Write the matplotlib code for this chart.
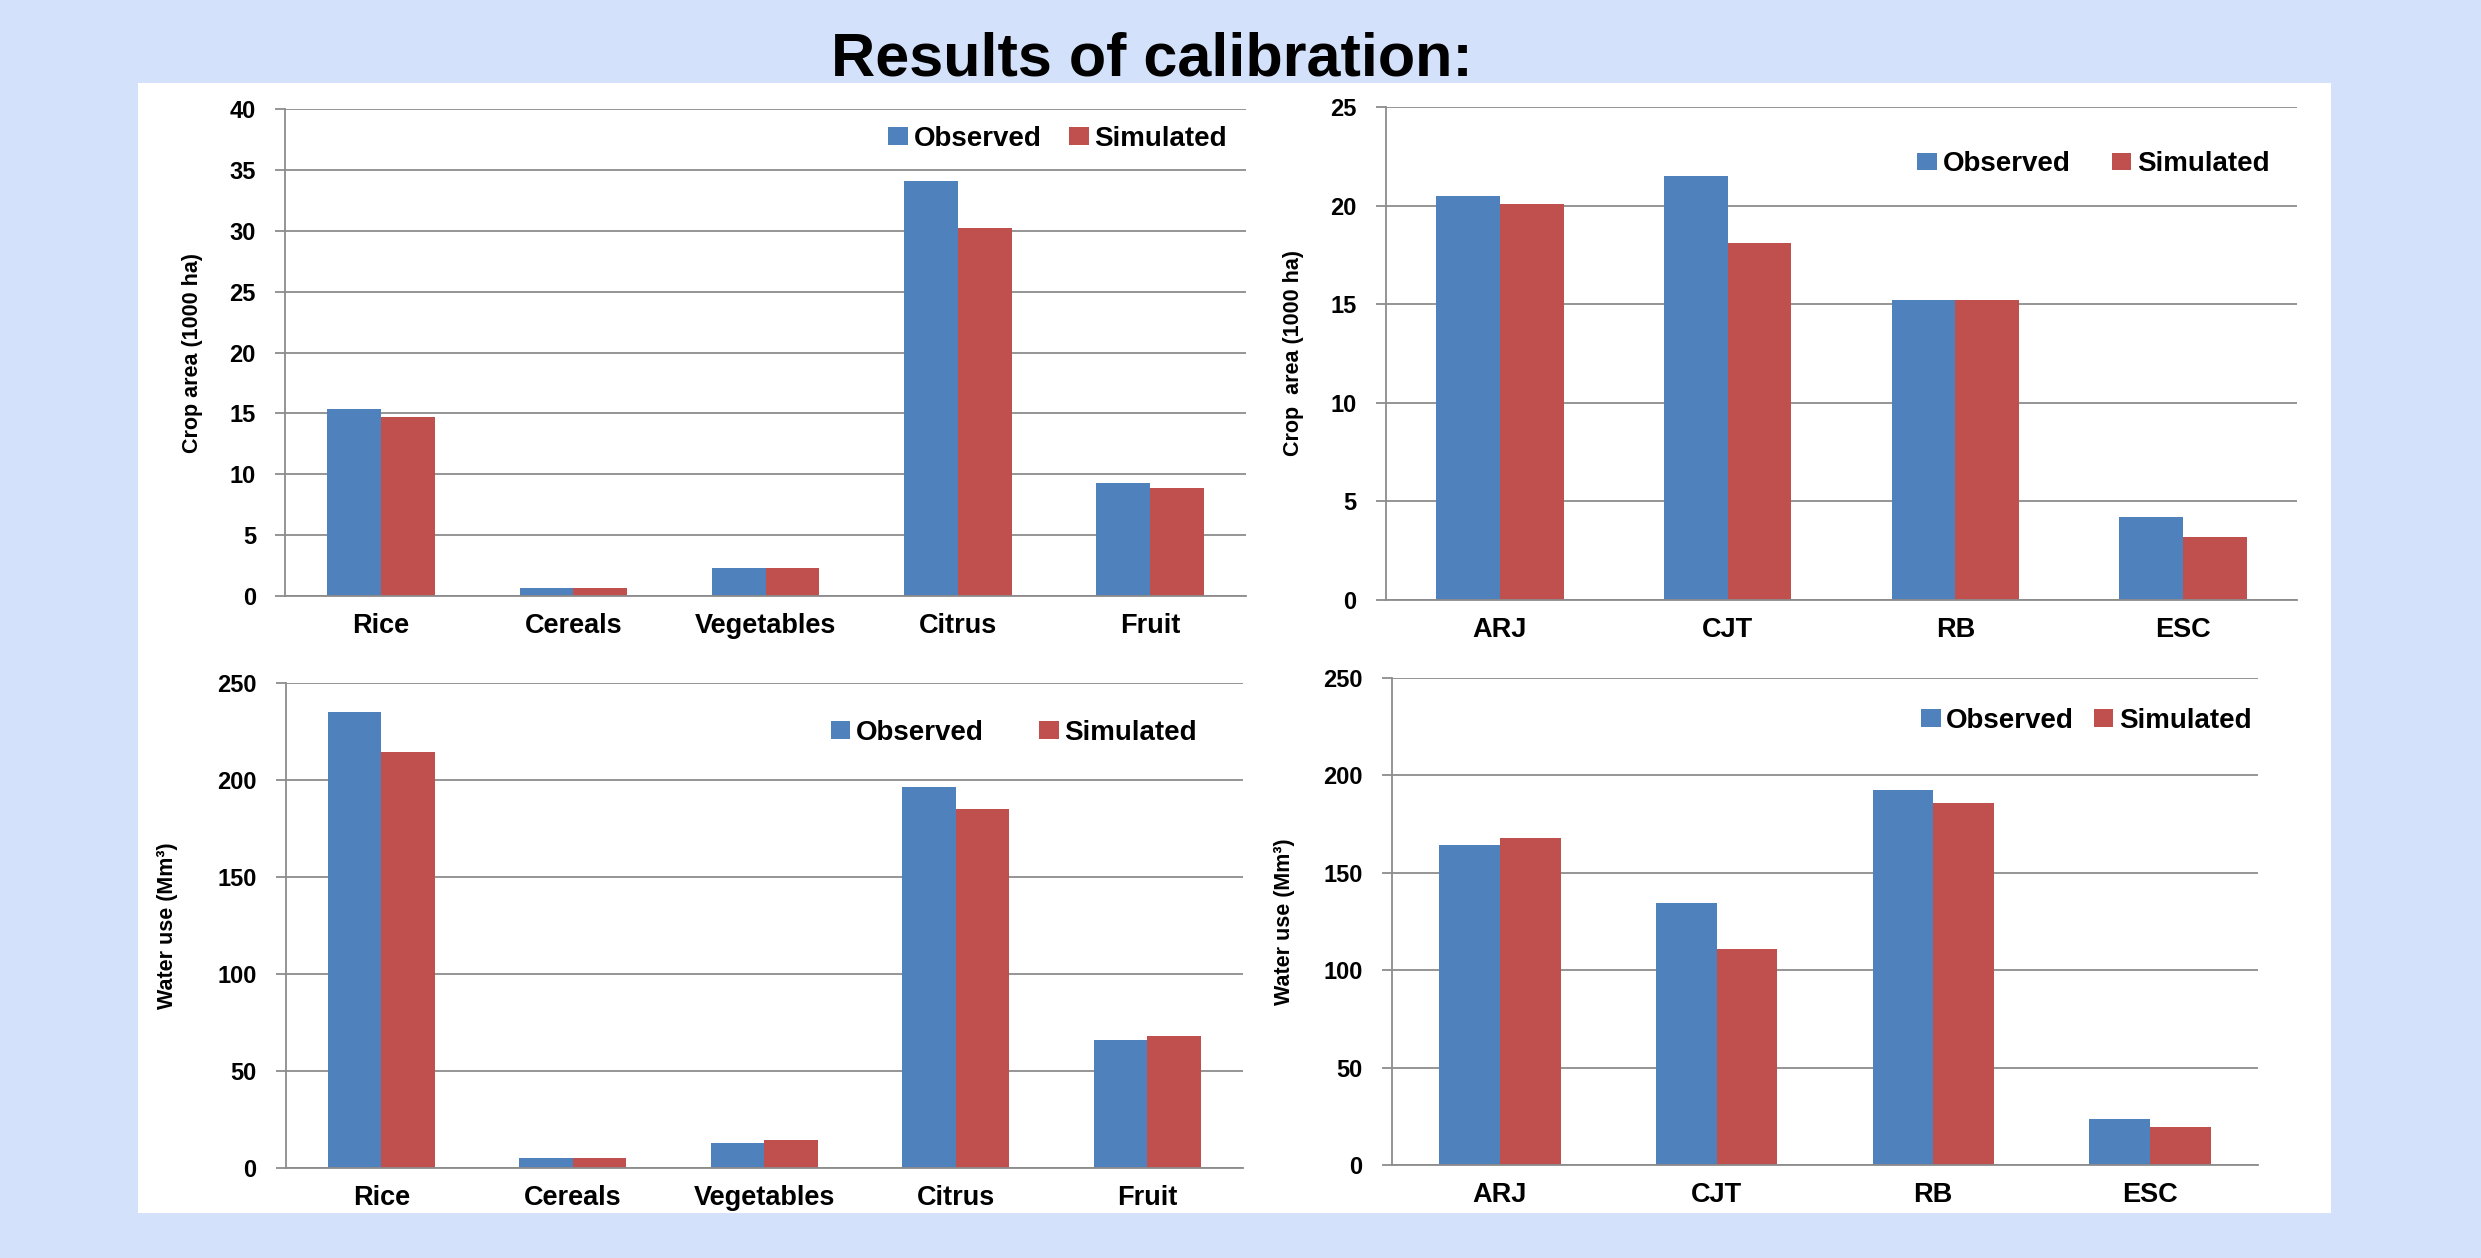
import numpy as np
import matplotlib as mpl
mpl.use('Agg')
import matplotlib.pyplot as plt
from matplotlib.patches import Rectangle

# data
crops = ['Rice', 'Cereals', 'Vegetables', 'Citrus', 'Fruit']
regions = ['ARJ', 'CJT', 'RB', 'ESC']

area_crop_obs = [15.4, 0.7, 2.3, 34.1, 9.3]
area_crop_sim = [14.7, 0.7, 2.3, 30.2, 8.9]
area_reg_obs = [20.5, 21.5, 15.2, 4.2]
area_reg_sim = [20.1, 18.1, 15.2, 3.2]
water_crop_obs = [235.3, 5.0, 13.0, 196.6, 66.2]
water_crop_sim = [214.3, 5.0, 14.3, 184.9, 68.1]
water_reg_obs = [164.3, 134.5, 192.7, 23.7]
water_reg_sim = [167.7, 111.0, 185.9, 19.5]

series_names = ['Observed', 'Simulated']
title = 'Results of calibration:'

BLUE = '#4F81BD'
RED = '#C0504D'
GRID = '#8C8C8C'
BG = '#D4E1FB'

plt.rcParams['font.family'] = ['Liberation Sans', 'DejaVu Sans']

fig = plt.figure(figsize=(24.81, 12.58), dpi=100, facecolor=BG)
fig.patches.append(Rectangle((138/2481., 1-1213/1258.), (2331-138)/2481., (1213-83)/1258.,
                             transform=fig.transFigure, facecolor='white', edgecolor='none', zorder=-5))
fig.text(0.4643, 1-75/1258., title, ha='center', va='baseline', fontsize=44, fontweight='bold')

# panels: (position, categories, obs, sim, ymax, step, ylabel, ylabel x, legend anchor, colspacing)
panels = [
    ([0.1149, 0.5262, 0.3873, 0.3871], crops, area_crop_obs, area_crop_sim, 40, 5,
     'Crop area (1000 ha)', -0.085, (0.980, 0.9385), 1.0),
    ([0.5586, 0.5231, 0.3672, 0.3919], regions, area_reg_obs, area_reg_sim, 25, 5,
     'Crop  area (1000 ha)', -0.09, (0.970, 0.884), 1.5),
    ([0.1151, 0.0715, 0.3859, 0.3855], crops, water_crop_obs, water_crop_sim, 250, 50,
     'Water use (Mm³)', -0.112, (0.952, 0.897), 2.0),
    ([0.5609, 0.0739, 0.3493, 0.3871], regions, water_reg_obs, water_reg_sim, 250, 50,
     'Water use (Mm³)', -0.112, (0.992, 0.912), 0.7),
]

w = 0.28
for pos, cats, obs, sim, ymax, step, ylab, ylx, anchor, colsp in panels:
    ax = fig.add_axes(pos)
    ax.set_facecolor('none')
    x = np.arange(len(cats))
    ax.bar(x - w/2, obs, w, color=BLUE, label=series_names[0], zorder=2)
    ax.bar(x + w/2, sim, w, color=RED, label=series_names[1], zorder=2)
    ax.set_xlim(-0.5, len(cats) - 0.5)
    ax.set_ylim(0, ymax)
    ax.set_yticks(np.arange(0, ymax + step, step))
    ax.set_xticks(x)
    ax.set_xticklabels(cats, fontsize=19.5, fontweight='bold')
    for t in ax.get_yticklabels():
        t.set_fontsize(17)
        t.set_fontweight('bold')
    ax.yaxis.grid(True, color=GRID, lw=1.3)
    ax.set_axisbelow(True)
    for s in ['top', 'right']:
        ax.spines[s].set_visible(False)
    ax.spines['left'].set_color(GRID)
    ax.spines['bottom'].set_color(GRID)
    ax.spines['left'].set_linewidth(1.3)
    ax.spines['bottom'].set_linewidth(1.3)
    ax.tick_params(axis='y', length=7, width=1.3, color=GRID, pad=14)
    ax.tick_params(axis='x', length=0, pad=12)
    ax.set_ylabel(ylab, fontsize=15.5, fontweight='bold')
    ax.yaxis.set_label_coords(ylx, 0.5)
    ax.legend(loc='center right', bbox_to_anchor=anchor, ncol=2, frameon=False,
              prop={'size': 20, 'weight': 'bold'}, handlelength=0.7, handleheight=0.6,
              handletextpad=0.2, columnspacing=colsp, borderpad=0, borderaxespad=0)

fig.savefig('out.png', dpi=100, facecolor=BG)
plt.close()
